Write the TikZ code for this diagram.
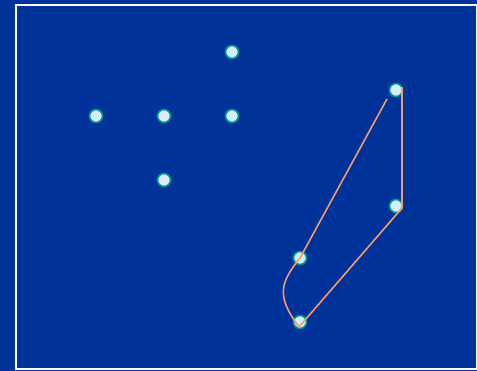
\documentclass[tikz,border=0pt]{standalone}
\usepackage{tikz}
\definecolor{bgblue}{HTML}{003399}
\definecolor{framecream}{HTML}{FFFBE8}
\definecolor{dotfill}{HTML}{D4EEFA}
\definecolor{dotedge}{HTML}{00958F}
\definecolor{pathorange}{HTML}{F59A6A}
\begin{document}
\begin{tikzpicture}[
      x=1pt, y=-1pt,
      dot/.style={
        circle, draw=dotedge, fill=dotfill, line width=1.6pt,
        minimum size=13pt, inner sep=0pt
      },
      route/.style={
        draw=pathorange, line width=1.6pt, line join=round
      }
    ]
    \useasboundingbox (0,0) rectangle (477,371);
    \fill[bgblue] (0,0) rectangle (477,371);
    \draw[framecream, line width=1.3pt] (16,5) rectangle (476.5,369);

    \node[dot] (top)   at (232,52)  {};
    \node[dot] (left)  at (96,116)  {};
    \node[dot] (mid)   at (164,116) {};
    \node[dot] (right) at (232,116) {};
    \node[dot] (low)   at (164,180) {};

    \node[dot] (ra) at (396,90)  {};
    \node[dot] (rb) at (396,206) {};
    \node[dot] (rc) at (300,258) {};
    \node[dot] (rd) at (300,322) {};

    \coordinate (start) at (387,99);
    \coordinate (tip)   at (299,327);
    \coordinate (turn)  at (402,208);
    \coordinate (stop)  at (402,87);

    \draw[route] (start) -- (rc.center)
      .. controls (280,283) and (276,296) .. (tip)
      -- (turn) -- (stop);
  \end{tikzpicture}
\end{document}
